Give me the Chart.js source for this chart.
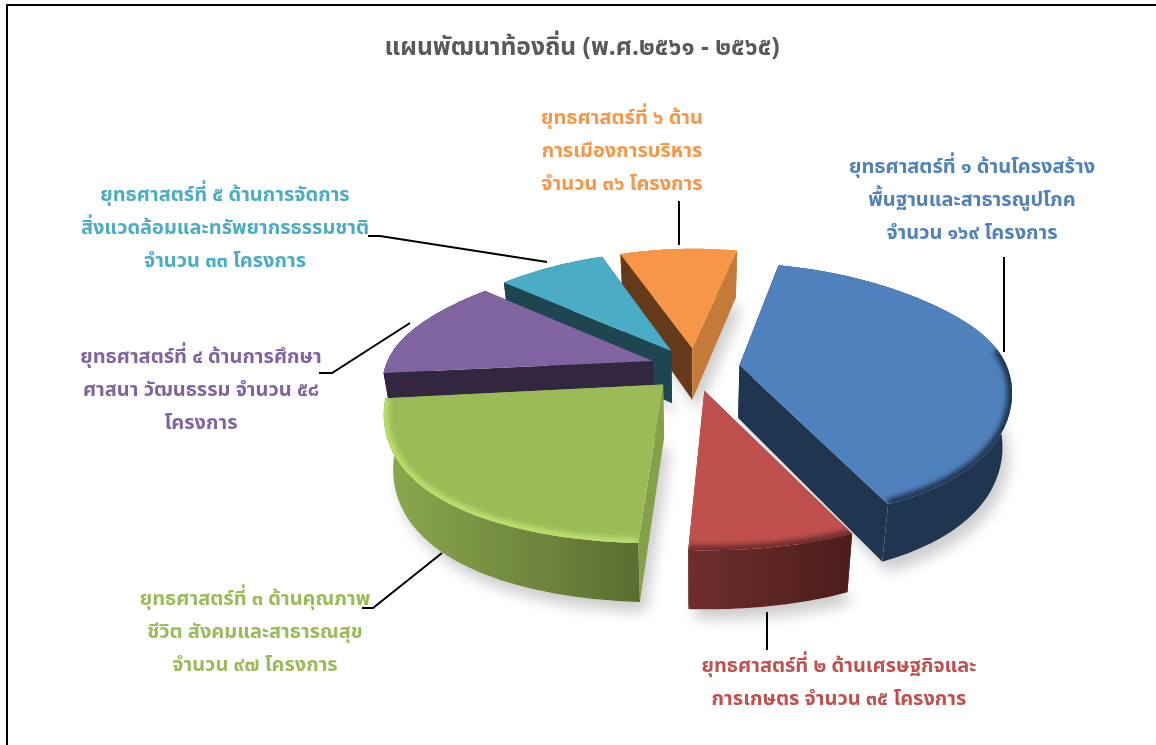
<!DOCTYPE html>
<html>
<head>
<meta charset="utf-8">
<title>แผนพัฒนาท้องถิ่น</title>
<script src="https://cdn.jsdelivr.net/npm/chart.js@4"></script>
<style>
html,body{margin:0;padding:0;background:#fff;overflow:hidden}
#frame{position:absolute;left:6px;top:4px;width:1150px;height:741px;border-left:2px solid #000;border-top:2px solid #000}
#myChart{position:absolute;left:0;top:0}
</style>
</head>
<body>
<div id="frame"></div>
<canvas id="myChart" width="1156" height="745"></canvas>
<script>
// ข้อมูล
var chartTitle = 'แผนพัฒนาท้องถิ่น (พ.ศ.๒๕๖๑ - ๒๕๖๕)';
var categories = ['ยุทธศาสตร์ที่ ๑','ยุทธศาสตร์ที่ ๒','ยุทธศาสตร์ที่ ๓','ยุทธศาสตร์ที่ ๔','ยุทธศาสตร์ที่ ๕','ยุทธศาสตร์ที่ ๖'];
var projects = [169, 35, 97, 58, 33, 36];
var labelLines = [
    ['ยุทธศาสตร์ที่ ๑ ด้านโครงสร้าง','พื้นฐานและสาธารณูปโภค','จำนวน ๑๖๙ โครงการ'],
    ['ยุทธศาสตร์ที่ ๒ ด้านเศรษฐกิจและ','การเกษตร จำนวน ๓๕ โครงการ'],
    ['ยุทธศาสตร์ที่ ๓ ด้านคุณภาพ','ชีวิต สังคมและสาธารณสุข','จำนวน ๙๗ โครงการ'],
    ['ยุทธศาสตร์ที่ ๔ ด้านการศึกษา','ศาสนา วัฒนธรรม จำนวน ๕๘','โครงการ'],
    ['ยุทธศาสตร์ที่ ๕ ด้านการจัดการ','สิ่งแวดล้อมและทรัพยากรธรรมชาติ','จำนวน ๓๓ โครงการ'],
    ['ยุทธศาสตร์ที่ ๖ ด้าน','การเมืองการบริหาร','จำนวน ๓๖ โครงการ']
];

// สี
var topColors = ['#4F81BD','#C0504D','#9BBB59','#8064A2','#4BACC6','#F79646'];
var startWall = ['#1F3550','#4E1F1D','#84A14A','#33263F','#1E4650','#653A1A'];
var endWall   = ['#1F3550','#6E2E2C','#84A14A','#33263F','#1E4650','#C47A39'];
var rimLeft   = ['#1F3550','#6E2E2C','#8BAA4E','#33263F','#1E4650','#C47A39'];
var rimRight  = ['#1F3550','#4C1D1B','#5A6E30','#33263F','#1E4650','#C47A39'];
var bevelColors = ['#1F3550','#6E2E2C','#B9E06C',null,null,null];
var paintOrder = [5, 4, 3, 0, 2, 1];
var frontSlice = [true, true, true, false, false, false];

// ตำแหน่งข้อความ [กลาง x, y บรรทัดแรก]
var labelPos = [[972,169],[839,668],[255,601],[201,359],[225,197],[622,120]];
var lineGap = 33;
var leaders = [
    [[1004,257],[1004,352]],
    [[767,612],[767,650]],
    [[442,553],[373,608],[362,608]],
    [[410,323],[332,373],[319,373]],
    [[368,236],[380,236],[547,262]],
    [[679,201],[679,245]]
];

var textFont = '"Noto Sans Thai","Noto Sans","Open Sans",sans-serif';
var depth = 53, persp = 1534;

function project(arc, u, v, h) {
    var s = 1 / (1 - v / persp);
    // ด้านหน้าแบนน้อยกว่าด้านหลัง
    var squash = 0.4825 + 0.1025 * Math.tanh(v / 120);
    var x = u * s, y = squash * v;
    if (h) {
        x = x * 0.97;
        y = y + h * (1 + v / 2700);
    }
    return [arc.x + x, arc.y + y];
}

// แยกชิ้นพายเป็นจุดบนระนาบ แล้วฉายเป็นภาพสามมิติ
function sliceShape(el) {
    var arc = el.getProps(['x','y','startAngle','endAngle','outerRadius'], true);
    var off = el.options.offset || 0;
    var mid = (arc.startAngle + arc.endAngle) / 2;
    var ox = Math.cos(mid) * off, oy = Math.sin(mid) * off;
    var top = [], bot = [], vs = [];
    var steps = 48;
    for (var i = 0; i <= steps; i++) {
        var a = arc.startAngle + (arc.endAngle - arc.startAngle) * i / steps;
        var u = ox + Math.cos(a) * arc.outerRadius;
        var v = oy + Math.sin(a) * arc.outerRadius;
        top.push(project(arc, u, v, 0));
        bot.push(project(arc, u, v, depth));
        vs.push(v);
    }
    return {
        top: top, bot: bot, vs: vs,
        apexTop: project(arc, ox, oy, 0),
        apexBot: project(arc, ox, oy, depth)
    };
}

function poly(ctx, pts) {
    ctx.beginPath();
    pts.forEach(function(p, i) {
        if (i) ctx.lineTo(p[0], p[1]); else ctx.moveTo(p[0], p[1]);
    });
    ctx.closePath();
}

function paintRim(ctx, sh, i) {
    var xs = sh.top.map(function(p){ return p[0]; });
    var g = ctx.createLinearGradient(Math.min.apply(null, xs), 0, Math.max.apply(null, xs), 0);
    g.addColorStop(0, rimLeft[i]);
    g.addColorStop(1, rimRight[i]);
    ctx.fillStyle = g;
    poly(ctx, sh.top.concat(sh.bot.slice().reverse()));
    ctx.fill();
}

function paintSlice(ctx, sh, i) {
    var n = sh.top.length - 1;

    // ชิ้นด้านหลังวาดขอบโค้งก่อนผนัง ชิ้นด้านหน้าวาดทีหลัง
    if (!frontSlice[i]) paintRim(ctx, sh, i);
    ctx.fillStyle = startWall[i];
    poly(ctx, [sh.apexTop, sh.top[0], sh.bot[0], sh.apexBot]);
    ctx.fill();
    ctx.fillStyle = endWall[i];
    poly(ctx, [sh.apexTop, sh.top[n], sh.bot[n], sh.apexBot]);
    ctx.fill();
    if (frontSlice[i]) paintRim(ctx, sh, i);

    ctx.fillStyle = topColors[i];
    poly(ctx, [sh.apexTop].concat(sh.top));
    ctx.fill();

    // ขอบนูนด้านหน้า
    if (bevelColors[i]) {
        ctx.save();
        poly(ctx, [sh.apexTop].concat(sh.top));
        ctx.clip();
        ctx.filter = 'blur(2.5px)';
        ctx.strokeStyle = bevelColors[i];
        ctx.lineWidth = 10;
        ctx.beginPath();
        var started = false;
        sh.top.forEach(function(p, k) {
            if (sh.vs[k] < -50) return;
            if (started) ctx.lineTo(p[0], p[1]); else ctx.moveTo(p[0], p[1]);
            started = true;
        });
        ctx.stroke();
        ctx.restore();
    }
}

var pie3d = {
    id: 'pie3d',
    beforeDatasetsDraw: function(chart) {
        var ctx = chart.ctx;
        var shapes = chart.getDatasetMeta(0).data.map(sliceShape);
        ctx.save();
        ctx.shadowColor = 'rgba(0,0,0,0.2)';
        ctx.shadowBlur = 14;
        ctx.shadowOffsetX = 6;
        ctx.shadowOffsetY = 10;
        ctx.fillStyle = '#fff';
        shapes.forEach(function(sh) {
            poly(ctx, [sh.apexBot].concat(sh.bot));
            ctx.fill();
        });
        ctx.restore();
        paintOrder.forEach(function(i) {
            paintSlice(ctx, shapes[i], i);
        });
        return false;
    },
    afterDraw: function(chart) {
        var ctx = chart.ctx;
        ctx.save();
        ctx.strokeStyle = '#000';
        ctx.lineWidth = 2;
        leaders.forEach(function(line) {
            ctx.beginPath();
            line.forEach(function(p, k) {
                if (k) ctx.lineTo(p[0], p[1]); else ctx.moveTo(p[0], p[1]);
            });
            ctx.stroke();
        });
        ctx.textAlign = 'center';
        ctx.textBaseline = 'middle';
        ctx.fillStyle = '#595959';
        ctx.font = 'bold 24.6px ' + textFont;
        ctx.fillText(chartTitle, 582, 50);
        ctx.font = 'bold 20px ' + textFont;
        labelLines.forEach(function(lines, i) {
            ctx.fillStyle = topColors[i];
            lines.forEach(function(t, k) {
                ctx.fillText(t, labelPos[i][0], labelPos[i][1] + k * lineGap);
            });
        });
        ctx.restore();
    }
};

var ctx = document.getElementById('myChart').getContext('2d');
var myPie = new Chart(ctx, {
    type: 'pie',
    data: {
        labels: categories,
        datasets: [{
            data: projects,
            backgroundColor: topColors,
            borderWidth: 0,
            offset: 45
        }]
    },
    options: {
        responsive: false,
        animation: false,
        rotation: 11.5,
        // outerRadius = (min(w,h) - offset) / 2
        layout: { padding: { left: 404.5, right: 170.5, top: 77.5, bottom: 86.5 } },
        plugins: { legend: { display: false }, tooltip: { enabled: false } }
    },
    plugins: [pie3d]
});
</script>
</body>
</html>
